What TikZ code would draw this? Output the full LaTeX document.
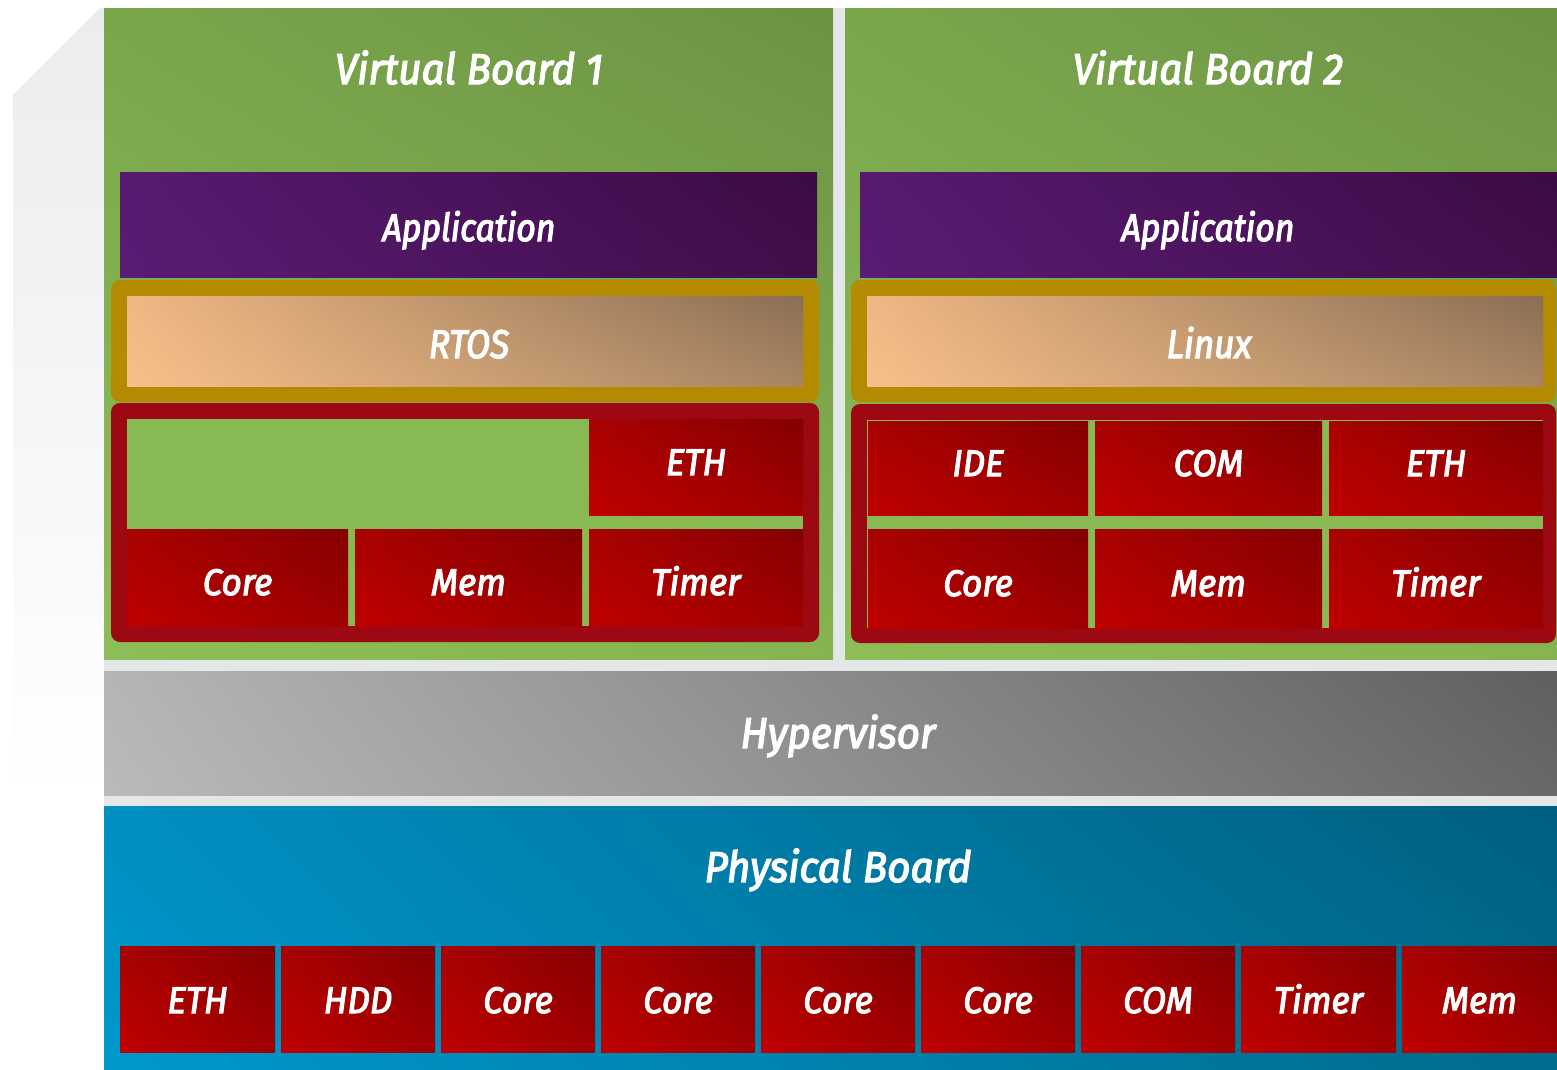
\documentclass[tikz,border=0pt]{standalone}
\usepackage{fontspec}
\newfontfamily\titlefont{Fira Sans}[FakeStretch=0.94, FakeBold=3]
\newfontfamily\lblfont{Fira Sans}[FakeStretch=0.88, FakeBold=3]
\newfontfamily\tilefont{Fira Sans}[FakeStretch=0.95, FakeBold=3]
\usetikzlibrary{calc,shadings}
\definecolor{bggray}{HTML}{E4E7E8}
\definecolor{shadowgray}{HTML}{EAECED}
\definecolor{grTL}{HTML}{7AA64B}
\definecolor{grTR}{HTML}{6C9244}
\definecolor{grBL}{HTML}{8DBE56}
\definecolor{grBR}{HTML}{86B450}
\definecolor{grIn}{HTML}{89B953}
\definecolor{puTL}{HTML}{571A70}
\definecolor{puBL}{HTML}{5A1C74}
\definecolor{puTR}{HTML}{3C0B45}
\definecolor{puBR}{HTML}{420E4B}
\definecolor{peBL}{HTML}{F7C08A}
\definecolor{peTL}{HTML}{EFB783}
\definecolor{peTR}{HTML}{8A6E54}
\definecolor{peBR}{HTML}{A88563}
\definecolor{tiBL}{HTML}{BF0000}
\definecolor{tiTL}{HTML}{A80202}
\definecolor{tiTR}{HTML}{840000}
\definecolor{tiBR}{HTML}{A00000}
\definecolor{gyTL}{HTML}{B5B5B5}
\definecolor{gyBL}{HTML}{BABABA}
\definecolor{gyTR}{HTML}{5F5F5D}
\definecolor{gyBR}{HTML}{686866}
\definecolor{blBL}{HTML}{0098CC}
\definecolor{blTL}{HTML}{0090C2}
\definecolor{blTR}{HTML}{005F80}
\definecolor{blBR}{HTML}{006C8E}
\definecolor{goldframe}{HTML}{B38A00}
\definecolor{redframe}{HTML}{9D0912}
\tikzset{
  lbl/.style={text=white, inner sep=0pt, anchor=base},
  titlelbl/.style={lbl, font=\titlefont\itshape\fontsize{43}{50}\selectfont},
  applbl/.style={lbl, font=\lblfont\itshape\fontsize{38.5}{45}\selectfont},
  oslbl/.style={lbl, font=\lblfont\itshape\fontsize{40}{46}\selectfont},
  tilelbl/.style={lbl, font=\tilefont\itshape\fontsize{37}{42}\selectfont},
  greenshade/.style={upper left=grTL, upper right=grTR, lower left=grBL, lower right=grBR},
  purpleshade/.style={upper left=puTL, upper right=puTR, lower left=puBL, lower right=puBR},
  peachshade/.style={upper left=peTL, upper right=peTR, lower left=peBL, lower right=peBR},
  redshade/.style={upper left=tiTL, upper right=tiTR, lower left=tiBL, lower right=tiBR},
  grayshade/.style={upper left=gyTL, upper right=gyTR, lower left=gyBL, lower right=gyBR},
  blueshade/.style={upper left=blTL, upper right=blTR, lower left=blBL, lower right=blBR},
}
% #1 name, #2 x1, #3 y1, #4 x2, #5 y2, #6 baseline, #7 label
\newcommand\hwtile[7]{%
  \shade[redshade] (#2,#3) rectangle (#4,#5);
  \node[tilelbl] (#1) at ({(#2+#4)/2},#6) {#7};
}
\begin{document}
\begin{tikzpicture}[x=1pt,y=-1pt]
\useasboundingbox (0,0) rectangle (1557,1069);
\fill[white] (0,0) rectangle (1557,1069);
% left shadow
\shade[top color=shadowgray, bottom color=white] (13,95) -- (100,8) -- (104,8) -- (104,800) -- (13,800) -- cycle;
\fill[bggray] (104,8) rectangle (1557,1069);

% ===== Virtual Board 1 =====
\shade[greenshade] (104,8) rectangle (833,659);
\node[titlelbl] (vb1) at (469,84) {Virtual Board 1};
\shade[purpleshade] (120,172) rectangle (817,277);
\node[applbl] (app1) at (469,241) {Application};
\fill[goldframe, rounded corners=9pt] (111,280) rectangle (819,402);
\shade[peachshade] (127,296) rectangle (803,386);
\node[oslbl] (rtos) at (469,358) {RTOS};
\fill[redframe, rounded corners=9pt] (111,403) rectangle (819,642);
\fill[grIn] (127,419) rectangle (803,626);
\hwtile{ethA}{589}{419}{803}{515}{475}{ETH}
\hwtile{coreA}{127}{529}{348}{626}{595}{Core}
\hwtile{memA}{355}{529}{582}{626}{595}{Mem}
\hwtile{timerA}{589}{529}{803}{626}{595}{Timer}

% ===== Virtual Board 2 =====
\shade[greenshade] (845,8) rectangle (1557,659);
\node[titlelbl] (vb2) at (1208,84) {Virtual Board 2};
\shade[purpleshade] (860,172) rectangle (1557,277);
\node[applbl] (app2) at (1208,241) {Application};
\fill[goldframe, rounded corners=9pt] (851,280) rectangle (1556,402);
\shade[peachshade] (867,296) rectangle (1543,386);
\node[oslbl] (linux) at (1209,358) {Linux};
\fill[redframe, rounded corners=9pt] (851,404) rectangle (1556,643);
\fill[grIn] (867,420) rectangle (1543,628);
\hwtile{ideB}{868}{421}{1088}{515}{476}{IDE}
\hwtile{comB}{1095}{421}{1322}{515}{476}{COM}
\hwtile{ethB}{1329}{421}{1543}{515}{476}{ETH}
\hwtile{coreB}{868}{529}{1088}{628}{596}{Core}
\hwtile{memB}{1095}{529}{1322}{628}{596}{Mem}
\hwtile{timerB}{1329}{529}{1543}{628}{596}{Timer}

% ===== Hypervisor =====
\shade[grayshade] (104,671) rectangle (1557,795);
\node[titlelbl] (hyp) at (838,748) {Hypervisor};

% ===== Physical Board =====
\shade[blueshade] (104,806) rectangle (1557,1069);
\node[titlelbl] (phys) at (838,882) {Physical Board};
\hwtile{pEth}{120}{946}{275}{1052}{1013}{ETH}
\hwtile{pHdd}{281}{946}{435}{1052}{1013}{HDD}
\hwtile{pCoreA}{441}{946}{595}{1052}{1013}{Core}
\hwtile{pCoreB}{601}{946}{755}{1052}{1013}{Core}
\hwtile{pCoreC}{761}{946}{915}{1052}{1013}{Core}
\hwtile{pCoreD}{921}{946}{1075}{1052}{1013}{Core}
\hwtile{pCom}{1081}{946}{1235}{1052}{1013}{COM}
\hwtile{pTimer}{1241}{946}{1396}{1052}{1013}{Timer}
\hwtile{pMem}{1402}{946}{1557}{1052}{1013}{Mem}
\end{tikzpicture}
\end{document}
